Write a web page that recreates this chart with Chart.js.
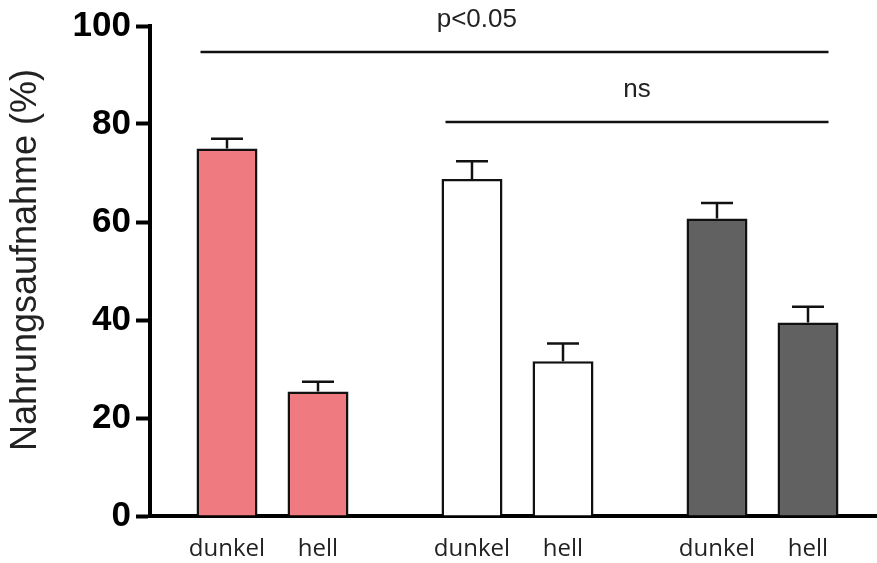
<!DOCTYPE html>
<html><head><meta charset="utf-8">
<script src="https://cdn.jsdelivr.net/npm/chart.js@4"></script>
<style>html,body{margin:0;padding:0;background:#fff;overflow:hidden}#wrap{width:877px;height:563px;overflow:hidden;position:relative}</style>
</head><body><div id="wrap"><canvas id="c" width="885" height="563"></canvas></div>
<script>
// ---- data ----
const groups = ['Gruppe 1', 'Gruppe 2', 'Gruppe 3'];
const conditions = ['dunkel', 'hell'];
const dunkelValues = [75.0, 68.8, 60.7];
const dunkelErrors = [2.0, 3.6, 3.2];
const hellValues = [25.4, 31.6, 39.5];
const hellErrors = [2.0, 3.6, 3.2];
const yTicks = [0, 20, 40, 60, 80, 100];
const yTitle = 'Nahrungsaufnahme (%)';
const significanceLabels = ['p<0.05', 'ns'];
const significanceHeights = [94.7, 80.4];
// ---- style ----
const groupColors = ['#EF7B80', '#FFFFFF', '#616161'];
const significanceSpans = [
  { from: [0, 0], to: [1, 2], textPos: 0.44 },
  { from: [0, 1], to: [1, 2], textPos: 0.5 }
];

const overlay = {
  id: 'overlay',
  afterDatasetsDraw(chart) {
    const ctx = chart.ctx, y = chart.scales.y;
    ctx.save();
    // error bars
    chart.data.datasets.forEach((ds, di) => {
      const meta = chart.getDatasetMeta(di);
      meta.data.forEach((bar, i) => {
        const top = y.getPixelForValue(ds.data[i] + ds.errors[i]);
        ctx.strokeStyle = '#111'; ctx.lineWidth = 2.5;
        ctx.beginPath();
        ctx.moveTo(bar.x, bar.y); ctx.lineTo(bar.x, top);
        ctx.moveTo(bar.x - 16, top); ctx.lineTo(bar.x + 16, top);
        ctx.stroke();
        // category label under each bar
        ctx.fillStyle = '#222';
        ctx.font = "24px 'Open Sans', 'Liberation Sans', Arial, sans-serif";
        ctx.textAlign = 'center'; ctx.textBaseline = 'alphabetic';
        ctx.fillText(ds.label, bar.x, 556);
      });
    });
    // significance lines
    significanceSpans.forEach((s, k) => {
      const b1 = chart.getDatasetMeta(s.from[0]).data[s.from[1]];
      const b2 = chart.getDatasetMeta(s.to[0]).data[s.to[1]];
      const x1 = b1.x - b1.width / 2 + 4;
      const x2 = b2.x + b2.width / 2 - 10;
      const py = y.getPixelForValue(significanceHeights[k]);
      ctx.strokeStyle = '#111'; ctx.lineWidth = 2.5;
      ctx.beginPath(); ctx.moveTo(x1, py); ctx.lineTo(x2, py); ctx.stroke();
      ctx.fillStyle = '#222';
      ctx.font = "26px 'Liberation Sans', Arial, sans-serif";
      ctx.textAlign = 'center'; ctx.textBaseline = 'middle';
      ctx.fillText(significanceLabels[k], x1 + (x2 - x1) * s.textPos, py - 32);
    });
    // y axis title
    ctx.translate(26, (chart.chartArea.top + chart.chartArea.bottom) / 2 - 11);
    ctx.rotate(-Math.PI / 2);
    ctx.fillStyle = '#222';
    ctx.font = "36px 'Liberation Sans', Arial, sans-serif";
    ctx.textAlign = 'center'; ctx.textBaseline = 'middle';
    ctx.fillText(yTitle, 0, 0);
    ctx.restore();
  }
};

new Chart(document.getElementById('c'), {
  type: 'bar',
  data: {
    labels: groups,
    datasets: [
      { label: conditions[0], data: dunkelValues, errors: dunkelErrors,
        backgroundColor: groupColors, borderColor: '#111', borderWidth: 2.5 },
      { label: conditions[1], data: hellValues, errors: hellErrors,
        backgroundColor: groupColors, borderColor: '#111', borderWidth: 2.5 }
    ]
  },
  options: {
    responsive: false,
    animation: false,
    devicePixelRatio: 1,
    categoryPercentage: 0.743,
    barPercentage: 0.67,
    layout: { padding: { top: 25, right: 0, bottom: 0, left: 0 } },
    plugins: { legend: { display: false }, tooltip: { enabled: false } },
    scales: {
      x: {
        type: 'category', offset: true,
        grid: { display: false, drawTicks: false },
        border: { display: true, color: '#000', width: 4 },
        ticks: { display: false },
        afterFit(s) { s.height = 47; }
      },
      y: {
        min: 0, max: 100,
        afterBuildTicks(s) { s.ticks = yTicks.map(v => ({ value: v })); },
        grid: { drawOnChartArea: false, drawTicks: true, tickLength: 14, tickWidth: 4, tickColor: '#000', color: '#000' },
        border: { display: true, color: '#000', width: 4 },
        ticks: { font: { family: "'Liberation Sans', Arial, sans-serif", size: 35, weight: 'bold' }, color: '#000', padding: 5 },
        title: { display: false, text: yTitle },
        afterFit(s) { s.width = 150; }
      }
    }
  },
  plugins: [overlay]
});
</script>
</body></html>
